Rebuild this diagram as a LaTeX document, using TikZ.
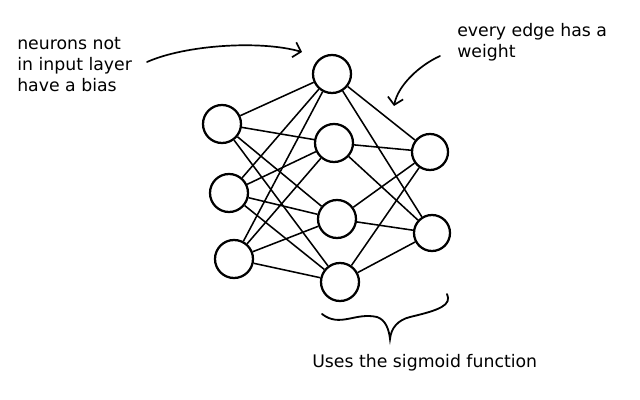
\documentclass[tikz,border=0pt]{standalone}
\usepackage{fontspec}
\setmainfont{DejaVu Sans}
\usetikzlibrary{arrows.meta}

\tikzset{
	neuron/.style={draw, circle, line width=1.6pt, minimum size=0.95cm, inner sep=0pt},
	link/.style={line width=1.1pt},
	note/.style={font=\fontsize{12.3}{15}\selectfont, align=left, inner sep=0pt},
	pointer/.style={line width=1.2pt, line cap=round, -{Straight Barb[length=5pt,width=11pt]}}
}

\begin{document}
\begin{tikzpicture}[x=0.025cm, y=-0.025cm]
	% Canvas
	\useasboundingbox (0,0) rectangle (640,400);
	% Define the neurons
	\node[neuron] (i1) at (222,124) {};
	\node[neuron] (i2) at (229,193) {};
	\node[neuron] (i3) at (234,259) {};
	\node[neuron] (h1) at (332,74) {};
	\node[neuron] (h2) at (334,143) {};
	\node[neuron] (h3) at (337,219) {};
	\node[neuron] (h4) at (340,282) {};
	\node[neuron, minimum size=0.9cm] (o1) at (430,152) {};
	\node[neuron, minimum size=0.9cm] (o2) at (432,233) {};
	% Connect the layers
	\foreach \a in {1,2,3} \foreach \b in {1,2,3,4} \draw[link] (i\a) -- (h\b);
	\foreach \b in {1,2,3,4} \foreach \c in {1,2} \draw[link] (h\b) -- (o\c);
	% Add the notes (anchored on the last line)
	\node[note, anchor=base west] (bias) at (17,92) {neurons not\\in input layer\\have a bias};
	\node[note, anchor=base west] (weight) at (457,58) {every edge has a\\weight};
	\node[note, anchor=base west] (sigmoid) at (312,368) {Uses the sigmoid function};
	% Arrows to the network
	\coordinate (biasfrom) at (147,62);
	\coordinate (biasto) at (302,52);
	\draw[pointer] (biasfrom) .. controls (185,45) and (260,40) .. (biasto);
	\coordinate (weightfrom) at (440,56);
	\coordinate (weightto) at (394,106);
	\draw[pointer] (weightfrom) .. controls (420,65) and (398,85) .. (weightto);
	% Brace under the hidden layer
	\draw[line width=1.3pt, line cap=round] (322,314) .. controls (340,328) and (355,312) .. (377,317) .. controls (386,320) and (389,330) .. (390,339) .. controls (391,328) and (398,320) .. (410,317) .. controls (440,310) and (452,305) .. (447,294);
\end{tikzpicture}
\end{document}
